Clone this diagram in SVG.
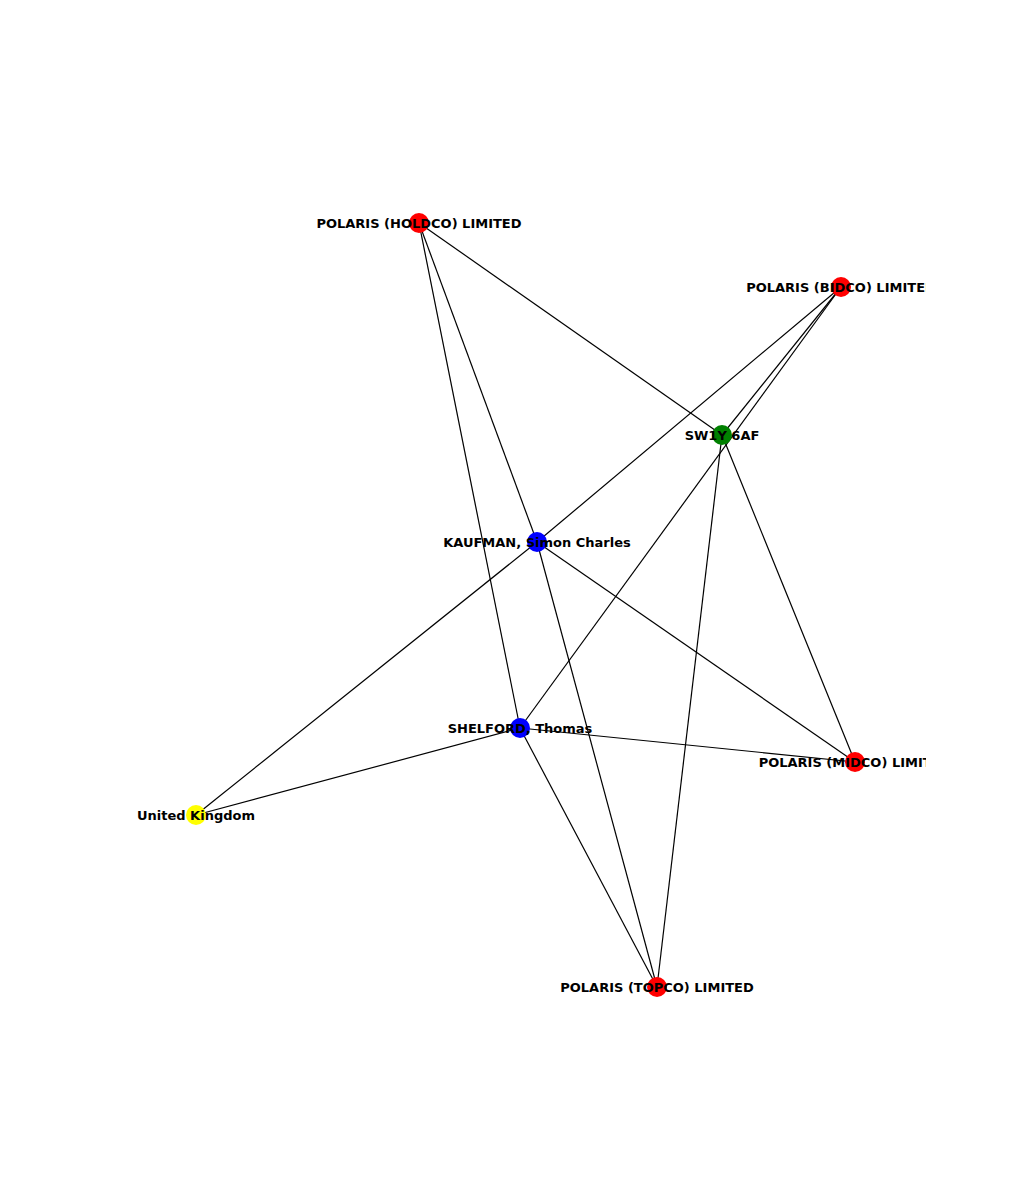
<svg xmlns="http://www.w3.org/2000/svg" width="1029" height="1200" viewBox="0 0 1029 1200">
<style>
.e{stroke:#000;stroke-width:1.2}
text{font-family:"DejaVu Sans",sans-serif;font-weight:bold;font-size:13px;text-anchor:middle;dominant-baseline:central}
</style>
<defs><clipPath id="c"><rect x="0" y="0" width="926" height="1200"/></clipPath></defs>
<rect width="1029" height="1200" fill="#fff"/>
<g clip-path="url(#c)">
<g id="edges">
<line class="e" x1="419" y1="223" x2="722" y2="435"/>
<line class="e" x1="419" y1="223" x2="537" y2="542"/>
<line class="e" x1="419" y1="223" x2="520" y2="728"/>
<line class="e" x1="841" y1="287" x2="537" y2="542"/>
<line class="e" x1="841" y1="287" x2="722" y2="435"/>
<line class="e" x1="841" y1="287" x2="520" y2="728"/>
<line class="e" x1="722" y1="435" x2="657" y2="987"/>
<line class="e" x1="722" y1="435" x2="855" y2="762"/>
<line class="e" x1="537" y1="542" x2="196" y2="815"/>
<line class="e" x1="537" y1="542" x2="855" y2="762"/>
<line class="e" x1="537" y1="542" x2="657" y2="987"/>
<line class="e" x1="520" y1="728" x2="196" y2="815"/>
<line class="e" x1="520" y1="728" x2="855" y2="762"/>
<line class="e" x1="520" y1="728" x2="657" y2="987"/>
</g>
<g id="holdco"><circle cx="419" cy="223" r="10" fill="red"/><text x="419" y="223">POLARIS (HOLDCO) LIMITED</text></g>
<g id="bidco"><circle cx="841" cy="287" r="10" fill="red"/><text x="841" y="287">POLARIS (BIDCO) LIMITED</text></g>
<g id="sw1y"><circle cx="722" cy="435" r="10" fill="green"/><text x="722" y="435">SW1Y 6AF</text></g>
<g id="kaufman"><circle cx="537" cy="542" r="10" fill="blue"/><text x="537" y="542">KAUFMAN, Simon Charles</text></g>
<g id="shelford"><circle cx="520" cy="728" r="10" fill="blue"/><text x="520" y="728">SHELFORD, Thomas</text></g>
<g id="midco"><circle cx="855" cy="762" r="10" fill="red"/><text x="855" y="762">POLARIS (MIDCO) LIMITED</text></g>
<g id="uk"><circle cx="196" cy="815" r="10" fill="yellow"/><text x="196" y="815">United Kingdom</text></g>
<g id="topco"><circle cx="657" cy="987" r="10" fill="red"/><text x="657" y="987">POLARIS (TOPCO) LIMITED</text></g>
</g>
</svg>
